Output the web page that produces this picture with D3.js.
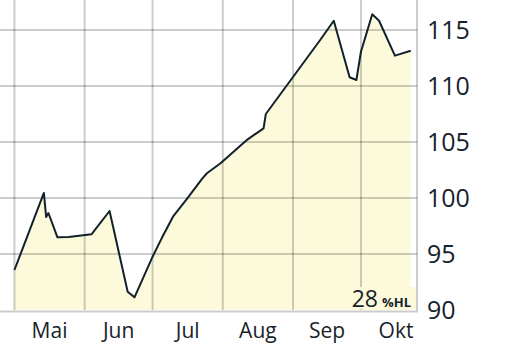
<!DOCTYPE html>
<html>
<head>
<meta charset="utf-8">
<script src="https://cdn.jsdelivr.net/npm/d3@7/dist/d3.min.js"></script>
<style>
  html, body { margin: 0; padding: 0; background: #fff; }
  svg { display: block; font-family: "Open Sans", "Noto Sans", sans-serif; }
</style>
</head>
<body>
<svg id="chart" width="512" height="346"></svg>
<script>
// values
const dates = ["2023-05-01","2023-05-14","2023-05-15","2023-05-16","2023-05-20","2023-05-25",
  "2023-06-04","2023-06-12","2023-06-20","2023-06-23","2023-07-01","2023-07-05","2023-07-10",
  "2023-07-16","2023-07-23","2023-07-25","2023-07-31","2023-08-12","2023-08-19","2023-08-20",
  "2023-09-13","2023-09-19","2023-09-26","2023-09-29","2023-10-01","2023-10-06","2023-10-09",
  "2023-10-16","2023-10-23"];
const prices = [93.57,100.45,98.30,98.66,96.49,96.52,96.76,98.84,91.63,91.13,94.76,96.40,98.33,
  99.88,101.76,102.21,103.10,105.24,106.22,107.50,114.11,115.83,110.78,110.54,113.06,116.40,
  115.83,112.71,113.15];
const yTicks = [90, 95, 100, 105, 110, 115];
const monthLabels = ["Mai", "Jun", "Jul", "Aug", "Sep", "Okt"];
const rangeValue = "28";
const rangeUnit = "%HL";

const parse = d3.utcParse("%Y-%m-%d");
const data = dates.map((d, i) => ({ date: parse(d), value: prices[i] }));

const width = 512, height = 346;
const plot = { l: 0, r: 417, t: 0, b: 310 };
const svg = d3.select('#chart');

const x = d3.scaleUtc()
  .domain([new Date(Date.UTC(2023, 3, 24, 15)), new Date(Date.UTC(2023, 9, 25, 18))])
  .range([plot.l, plot.r]);
const y = d3.scaleLinear().domain([90, 117.68]).range([plot.b, plot.t]);

const fillColor = '#fdfadb';

// area
const area = d3.area()
  .x(d => x(d.date))
  .y0(plot.b)
  .y1(d => y(d.value));
svg.append('path')
  .datum(data)
  .attr('d', area)
  .attr('fill', fillColor);

// grid on top, semi transparent so it tints over the fill
const monthStarts = d3.utcMonth.range(parse("2023-05-01"), parse("2023-10-02"));
const grid = svg.append('g').attr('stroke', '#000').attr('stroke-opacity', 0.2).attr('stroke-width', 2);
grid.selectAll('.vg').data(monthStarts).join('line')
  .attr('x1', d => x(d)).attr('x2', d => x(d))
  .attr('y1', plot.t).attr('y2', plot.b);
grid.selectAll('.hg').data(yTicks.filter(v => v > 90)).join('line')
  .attr('x1', plot.l).attr('x2', plot.r)
  .attr('y1', d => y(d)).attr('y2', d => y(d));
// frame: bottom and right
grid.append('line').attr('x1', plot.l).attr('x2', plot.r + 1)
  .attr('y1', plot.b + 1.5).attr('y2', plot.b + 1.5);
grid.append('line').attr('x1', plot.r).attr('x2', plot.r)
  .attr('y1', plot.t).attr('y2', plot.b + 0.5);

// price line
const line = d3.line().x(d => x(d.date)).y(d => y(d.value));
svg.append('path')
  .datum(data)
  .attr('d', line)
  .attr('fill', 'none')
  .attr('stroke', '#10212c')
  .attr('stroke-width', 2)
  .attr('stroke-linejoin', 'round');

// y labels on the right
svg.append('g').selectAll('text').data(yTicks).join('text')
  .attr('x', 427)
  .attr('y', d => y(d) + 9)
  .attr('font-size', 25)
  .attr('fill', '#17232b')
  .text(d => d);

// month labels, centred in each month
svg.append('g').selectAll('text').data(monthStarts).join('text')
  .attr('x', d => (x(d) + x(d3.utcMonth.offset(d, 1))) / 2)
  .attr('y', 338)
  .attr('text-anchor', 'middle')
  .attr('font-size', 21)
  .attr('fill', '#17232b')
  .text((d, i) => monthLabels[i]);

// range badge
const badge = svg.append('g');
badge.append('rect')
  .attr('x', 346).attr('y', 287).attr('width', 70).attr('height', 22)
  .attr('fill', fillColor);
const bt = badge.append('text')
  .attr('x', 411).attr('y', 307)
  .attr('text-anchor', 'end')
  .attr('fill', '#17232b');
bt.append('tspan').attr('font-size', 23).text(rangeValue);
bt.append('tspan').attr('font-size', 13).attr('font-weight', 'bold').attr('dx', 4).text(rangeUnit);
</script>
</body>
</html>
